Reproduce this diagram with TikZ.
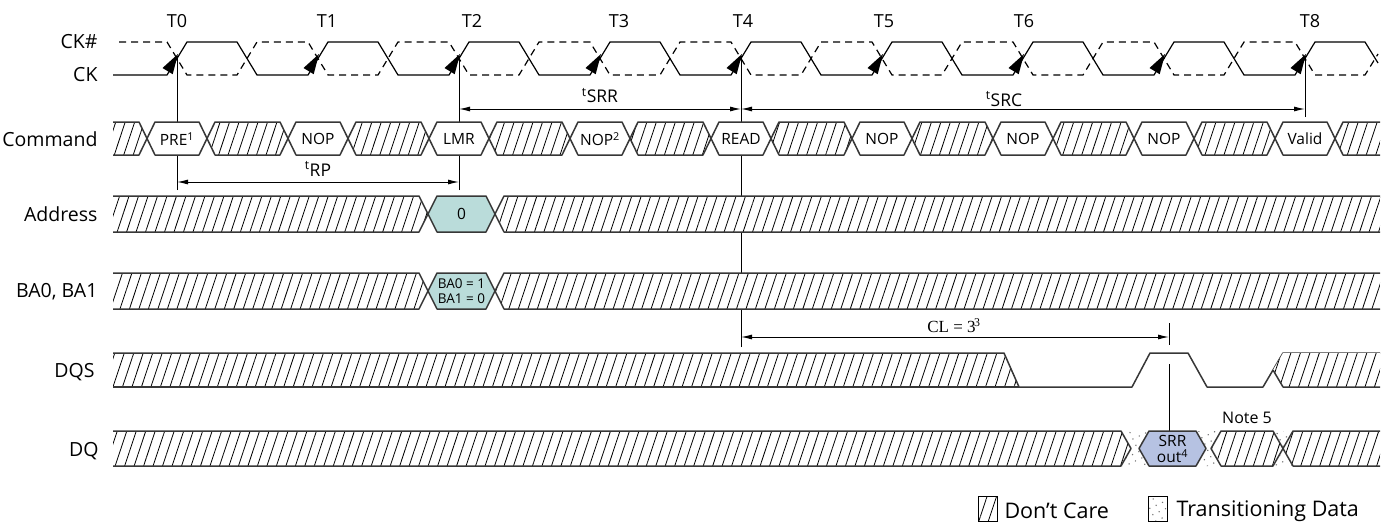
\documentclass[tikz,border=0pt]{standalone}
\usepackage{fontspec}
\setmainfont{Open Sans}
\newfontfamily\clfont{Liberation Serif}
\usetikzlibrary{arrows.meta,patterns.meta}

\definecolor{addrteal}{RGB}{186,220,218}
\definecolor{srrblue}{RGB}{182,194,226}
\definecolor{busgray}{RGB}{55,55,55}

\tikzset{
  clk/.style={line width=1.2pt},
  clkbar/.style={line width=1.2pt, dash pattern=on 7pt off 5pt},
  guide/.style={line width=1pt},
  dimline/.style={{Latex[length=11pt,width=5pt]}-{Latex[length=11pt,width=5pt]}, line width=1pt},
  busline/.style={draw=busgray, line width=1.5pt, line join=round},
  dontcare/.style={preaction={fill=white}, pattern={Lines[angle=71.6,distance=9pt,line width=0.8pt]}},
  transit/.style={pattern={Dots[radius=0.8pt,distance=7pt,angle=25]}, pattern color=black!55},
  siglabel/.style={anchor=east, font=\fontsize{19.5}{22}\selectfont},
  tlabel/.style={font=\fontsize{18}{20}\selectfont},
  dimlabel/.style={font=\fontsize{17.5}{20}\selectfont},
  hextext/.style={font=\fontsize{15.5}{16}\selectfont, inner sep=0pt, align=center},
}

% bus pieces: #1 left x, #2 right x, #3 mid y (\rowh half height, \rows slope)
\newcommand{\dcstart}[3]{%
  \fill[dontcare] ({#1},{#3-\rowh}) -- ({#2-\rows},{#3-\rowh}) -- ({#2},{#3}) -- ({#2-\rows},{#3+\rowh}) -- ({#1},{#3+\rowh}) -- cycle;
  \draw[busline] ({#1},{#3-\rowh}) -- ({#2-\rows},{#3-\rowh}) -- ({#2},{#3}) -- ({#2-\rows},{#3+\rowh}) -- ({#1},{#3+\rowh});}
\newcommand{\dcend}[3]{%
  \fill[dontcare] ({#2},{#3-\rowh}) -- ({#1+\rows},{#3-\rowh}) -- ({#1},{#3}) -- ({#1+\rows},{#3+\rowh}) -- ({#2},{#3+\rowh}) -- cycle;
  \draw[busline] ({#2},{#3-\rowh}) -- ({#1+\rows},{#3-\rowh}) -- ({#1},{#3}) -- ({#1+\rows},{#3+\rowh}) -- ({#2},{#3+\rowh});}
\newcommand{\dchex}[3]{%
  \draw[busline, dontcare] ({#1},{#3}) -- ({#1+\rows},{#3-\rowh}) -- ({#2-\rows},{#3-\rowh}) -- ({#2},{#3}) -- ({#2-\rows},{#3+\rowh}) -- ({#1+\rows},{#3+\rowh}) -- cycle;}
\newcommand{\valhex}[4]{%
  \draw[busline, fill=#4] ({#1},{#3}) -- ({#1+\rows},{#3-\rowh}) -- ({#2-\rows},{#3-\rowh}) -- ({#2},{#3}) -- ({#2-\rows},{#3+\rowh}) -- ({#1+\rows},{#3+\rowh}) -- cycle;}
\newcommand{\transgap}[3]{%
  \fill[transit] ({#1-\rows},{#3-\rowh}) -- ({#2+\rows},{#3-\rowh}) -- ({#2},{#3}) -- ({#2+\rows},{#3+\rowh}) -- ({#1-\rows},{#3+\rowh}) -- ({#1},{#3}) -- cycle;}

\begin{document}
\begin{tikzpicture}[x=1pt,y=-1pt]
\useasboundingbox (0,0) rectangle (1387,527);

%============ labels
\node[siglabel] (lckb) at (101,42) {CK\#};
\node[siglabel] (lck) at (101,75) {CK};
\node[siglabel] (lcmd) at (101,139) {Command};
\node[siglabel] (laddr) at (101,214) {Address};
\node[siglabel] (lba) at (101,292) {BA0, BA1};
\node[siglabel] (ldqs) at (98,372) {DQS};
\node[siglabel] (ldq) at (102,451) {DQ};

\foreach \x/\t [count=\i from 0] in {177/T0, 327/T1, 472/T2, 619/T3, 743/T4, 884/T5, 1024/T6, 1310/T8}
  \node[tlabel] (lt\i) at (\x,21) {\t};

%============ clock
\draw[clk] (113,75) \foreach \x in {177,318,...,1164} { -- ({\x-10},75) -- ({\x+10},42) -- ({\x+60},42) -- ({\x+80},75) } -- (1295,75) -- (1315,42) -- (1365,42) -- (1378,63);
\draw[clkbar] (119,42) \foreach \x in {177,318,...,1164} { -- ({\x-10},42) -- ({\x+10},75) -- ({\x+60},75) -- ({\x+80},42) } -- (1295,42) -- (1315,75) -- (1365,75) -- (1378,54);

%============ guides
\draw[guide] (177,190) -- (177,56);
\draw[guide] (459,190) -- (459,56);
\draw[guide] (741,347) -- (741,56);
\draw[guide] (1305,117) -- (1305,56);

% rising edge marks
\foreach \x in {177,318,...,1305}
  \fill ({\x+1},54) -- ({\x-4.3},74.2) -- ({\x-14.5},68) -- cycle;

\draw[dimline] (459,109) -- node[dimlabel, above=2pt] (tsrr) {\textsuperscript{t}SRR} (741,109);
\draw[dimline] (741,109) -- (1305,109);
\node[dimlabel] (tsrc) at (1004,99) {\textsuperscript{t}SRC};
\draw[dimline] (177,182) -- node[dimlabel, above=2pt] (trp) {\textsuperscript{t}RP} (459,182);

%============ command
\def\rowh{16.5}\def\rows{8}
\dcstart{113}{147}{138.5}
\foreach \x in {177,318,...,1164} { \dchex{\x+30}{\x+111}{138.5} }
\dcend{1335}{1380}{138.5}
\foreach \x/\txt [count=\i from 0] in {177/PRE\textsuperscript{1}, 318/NOP, 459/LMR, 600/NOP\textsuperscript{2}, 741/READ, 882/NOP, 1023/NOP, 1164/NOP, 1305/Valid} {
  \valhex{\x-30}{\x+30}{138.5}{white}
  \node[hextext] (cmd\i) at (\x,139) {\txt};
}

%============ address, bank
\def\rowh{18}\def\rows{9}
\dcstart{113}{428}{214}
\valhex{428}{495}{214}{addrteal}
\node[hextext] (addr0) at (461.5,214) {0};
\dcend{495}{1380}{214}

\dcstart{113}{428}{291}
\valhex{428}{495}{291}{addrteal}
\node[hextext, font=\fontsize{13.5}{14.5}\selectfont] (ba) at (461.5,291) {BA0 = 1\\BA1 = 0};
\dcend{495}{1380}{291}

%============ CL
\draw[dimline] (741,337) -- (1169,337);
\draw[guide] (1169,323) -- (1169,345);
\node[font=\clfont\fontsize{17}{18}\selectfont] (cl) at (954,326) {CL = 3\kern-1.5pt\textsuperscript{3}};
\draw[guide] (1169,364) -- (1169,431);

%============ DQS
\fill[dontcare] (113,353) -- (1004,353) -- (1019,387) -- (113,387) -- cycle;
\draw[busline] (113,353) -- (1004,353) -- (1019,387) -- (1132,387) -- (1150,353) -- (1188,353) -- (1207,387) -- (1263,387) -- (1283,353) -- (1380,353);
\draw[busline] (113,387) -- (1019,387);
\fill[dontcare] (1283,353) -- (1380,353) -- (1380,387) -- (1283,387) -- (1273,370) -- cycle;
\draw[busline] (1380,387) -- (1283,387) -- (1273,370);

%============ DQ
\def\rowh{17.5}\def\rows{10}
\transgap{1131}{1139}{448.5}
\transgap{1206}{1211}{448.5}
\transgap{1283}{1283}{448.5}
\dcstart{113}{1131}{448.5}
\valhex{1139}{1206}{448.5}{srrblue}
\node[hextext] (srr) at (1172.5,449) {SRR\\out\textsuperscript{4}};
\dchex{1211}{1283}{448.5}
\dcend{1283}{1380}{448.5}
\node[font=\fontsize{16}{18}\selectfont] (note5) at (1247,418) {Note 5};

%============ legend
\draw[line width=1pt, dontcare] (978,496) rectangle (997,521);
\node[anchor=west, font=\fontsize{21.5}{24}\selectfont] (ldc) at (1001,511) {Don’t Care};
\draw[line width=1pt, transit] (1148,496) rectangle (1167,521);
\node[anchor=west, font=\fontsize{21.5}{24}\selectfont] (ltr) at (1173,511) {Transitioning Data};
\end{tikzpicture}
\end{document}
